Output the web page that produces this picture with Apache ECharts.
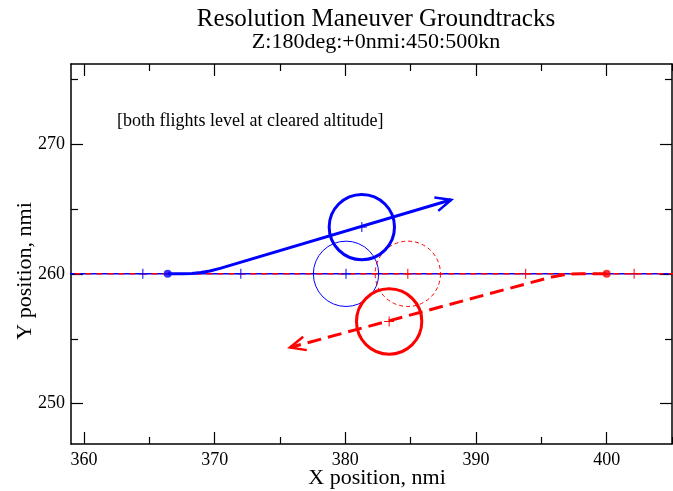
<!DOCTYPE html>
<html>
<head>
<meta charset="utf-8">
<script src="https://cdn.jsdelivr.net/npm/echarts@6/dist/echarts.min.js"></script>
<style>
html,body{margin:0;padding:0;background:#fff;}
#chart{width:673px;height:491px;}
</style>
</head>
<body>
<div id="chart"></div>
<script>
// ---- data ----
const titleText = 'Resolution Maneuver Groundtracks';
const subtitleText = 'Z:180deg:+0nmi:450:500kn';
const noteText = '[both flights level at cleared altitude]';
const xName = 'X position, nmi';
const yName = 'Y position, nmi';

const xMin = 359, xMax = 405;
const yMin = 246.9, yMax = 276.15;
const xMajorTicks = [360, 370, 380, 390, 400];
const xMinorTicks = [365, 375, 385, 395, 405];
const yMajorTicks = [250, 260, 270];
const yMinorTicks = [255, 265, 275];

// original (unresolved) intent lines along y = 260
const refLineX = [350, 410];
const refLineY = [260, 260];

// resolution groundtracks
const blueTrackX = [366.4, 367.55, 368.25, 368.94, 369.63, 370.41, 388.1];
const blueTrackY = [260, 260, 260.024, 260.097, 260.219, 260.417, 265.7];
const redTrackX = [400, 398.01, 397.31, 396.62, 395.93, 395.39, 375.76];
const redTrackY = [260, 260, 259.976, 259.903, 259.781, 259.65, 254.33];

// start points
const blueStart = [366.4, 260];
const redStart = [400, 260];

// separation circles (center x, center y, radius nmi)
const blueCircleThickX = 381.26, blueCircleThickY = 263.6;
const blueCircleThinX = 380.05, blueCircleThinY = 260;
const redCircleThinX = 384.78, redCircleThinY = 260;
const redCircleThickX = 383.35, redCircleThickY = 256.33;
const circleRadius = 2.5;

// time markers (+)
const bluePlusX = [364.5, 372.0, 380.05, 381.26];
const bluePlusY = [260, 260, 260, 263.6];
const redPlusX = [384.78, 393.8, 402.1, 383.35];
const redPlusY = [260, 260, 260, 256.33];

// ---- build ----
const BLUE = '#0000ff', RED = '#ff0000';
const FONT = '"Liberation Serif", "DejaVu Serif", serif';
const zip = (a, b) => a.map((v, i) => [v, b[i]]);

function circleSeries(cx, cy, color, width, dash) {
  return {
    type: 'custom', clip: true, silent: true, z: 5,
    data: [[cx, cy, circleRadius]],
    renderItem: function (params, api) {
      const c = api.coord([api.value(0), api.value(1)]);
      const r = api.size([api.value(2), 0])[0];
      return {
        type: 'circle',
        shape: { cx: c[0], cy: c[1], r: r },
        style: { fill: 'none', stroke: color, lineWidth: width, lineDash: dash || null }
      };
    }
  };
}

function plusSeries(xs, ys, color) {
  return {
    type: 'custom', clip: true, silent: true, z: 6,
    data: zip(xs, ys),
    renderItem: function (params, api) {
      const c = api.coord([api.value(0), api.value(1)]);
      const h = 5;
      return {
        type: 'group',
        children: [
          { type: 'line', shape: { x1: c[0] - h, y1: c[1], x2: c[0] + h, y2: c[1] }, style: { stroke: color, lineWidth: 1 } },
          { type: 'line', shape: { x1: c[0], y1: c[1] - h, x2: c[0], y2: c[1] + h }, style: { stroke: color, lineWidth: 1 } }
        ]
      };
    }
  };
}

function arrowSeries(xs, ys, color) {
  const n = xs.length;
  return {
    type: 'custom', clip: false, silent: true, z: 7,
    data: [[xs[n - 2], ys[n - 2], xs[n - 1], ys[n - 1]]],
    renderItem: function (params, api) {
      const p0 = api.coord([api.value(0), api.value(1)]);
      const p1 = api.coord([api.value(2), api.value(3)]);
      const ang = Math.atan2(p0[1] - p1[1], p0[0] - p1[0]);
      const L = 17, a = 0.42;
      const w1 = [p1[0] + L * Math.cos(ang + a), p1[1] + L * Math.sin(ang + a)];
      const w2 = [p1[0] + L * Math.cos(ang - a), p1[1] + L * Math.sin(ang - a)];
      return {
        type: 'polyline',
        shape: { points: [w1, p1, w2] },
        style: { fill: 'none', stroke: color, lineWidth: 2.5, lineJoin: 'miter' }
      };
    }
  };
}

const baseX = {
  type: 'value', min: xMin, max: xMax, splitLine: { show: false }
};
const baseY = {
  type: 'value', min: yMin, max: yMax, splitLine: { show: false }
};
const lineStyle = { color: '#000', width: 1.5 };
const tickStyle = { color: '#000', width: 1.2 };

const option = {
  animation: false,
  backgroundColor: '#fff',
  grid: { left: 71, right: 1, top: 64, bottom: 47, containLabel: false, outerBoundsMode: 'none' },
  xAxis: [
    Object.assign({}, baseX, {
      position: 'bottom',
      axisLine: { show: true, onZero: false, lineStyle: lineStyle },
      axisTick: { show: true, inside: true, length: 12, customValues: xMajorTicks, lineStyle: tickStyle },
      axisLabel: { show: true, customValues: xMajorTicks, margin: 7, color: '#000', fontFamily: FONT, fontSize: 18 }
    }),
    Object.assign({}, baseX, {
      position: 'bottom',
      axisLine: { show: false, onZero: false },
      axisTick: { show: true, inside: true, length: 7, customValues: xMinorTicks, lineStyle: tickStyle },
      axisLabel: { show: false }
    }),
    Object.assign({}, baseX, {
      position: 'top',
      axisLine: { show: true, onZero: false, lineStyle: lineStyle },
      axisTick: { show: true, inside: true, length: 12, customValues: xMajorTicks, lineStyle: tickStyle },
      axisLabel: { show: false }
    }),
    Object.assign({}, baseX, {
      position: 'top',
      axisLine: { show: false, onZero: false },
      axisTick: { show: true, inside: true, length: 7, customValues: xMinorTicks, lineStyle: tickStyle },
      axisLabel: { show: false }
    })
  ],
  yAxis: [
    Object.assign({}, baseY, {
      position: 'left',
      axisLine: { show: true, onZero: false, lineStyle: lineStyle },
      axisTick: { show: true, inside: true, length: 12, customValues: yMajorTicks, lineStyle: tickStyle },
      axisLabel: { show: true, customValues: yMajorTicks, margin: 6, color: '#000', fontFamily: FONT, fontSize: 18 }
    }),
    Object.assign({}, baseY, {
      position: 'left',
      axisLine: { show: false, onZero: false },
      axisTick: { show: true, inside: true, length: 7, customValues: yMinorTicks, lineStyle: tickStyle },
      axisLabel: { show: false }
    }),
    Object.assign({}, baseY, {
      position: 'right',
      axisLine: { show: true, onZero: false, lineStyle: lineStyle },
      axisTick: { show: true, inside: true, length: 12, customValues: yMajorTicks, lineStyle: tickStyle },
      axisLabel: { show: false }
    }),
    Object.assign({}, baseY, {
      position: 'right',
      axisLine: { show: false, onZero: false },
      axisTick: { show: true, inside: true, length: 7, customValues: yMinorTicks, lineStyle: tickStyle },
      axisLabel: { show: false }
    })
  ],
  graphic: [
    { type: 'text', x: 376, y: 19, style: { text: titleText, x: 0, y: 0, fill: '#000', font: '25px ' + FONT, textAlign: 'center', textVerticalAlign: 'middle' } },
    { type: 'text', x: 376, y: 42, style: { text: subtitleText, x: 0, y: 0, fill: '#000', font: '22px ' + FONT, textAlign: 'center', textVerticalAlign: 'middle' } },
    { type: 'text', x: 117, y: 121, style: { text: noteText, x: 0, y: 0, fill: '#000', font: '18px ' + FONT, textAlign: 'left', textVerticalAlign: 'middle' } },
    { type: 'text', x: 377, y: 478, style: { text: xName, x: 0, y: 0, fill: '#000', font: '22px ' + FONT, textAlign: 'center', textVerticalAlign: 'middle' } },
    { type: 'text', x: 25, y: 271, rotation: Math.PI / 2, style: { text: yName, x: 0, y: 0, fill: '#000', font: '22px ' + FONT, textAlign: 'center', textVerticalAlign: 'middle' } }
  ],
  series: [
    { type: 'line', data: zip(refLineX, refLineY), symbol: 'none', z: 2, silent: true,
      lineStyle: { color: BLUE, width: 1.5 } },
    { type: 'line', data: zip(refLineX, refLineY), symbol: 'none', z: 3, silent: true,
      lineStyle: { color: RED, width: 1.5, type: [6, 5] } },
    circleSeries(blueCircleThinX, blueCircleThinY, BLUE, 1, null),
    circleSeries(redCircleThinX, redCircleThinY, RED, 1, [4, 3]),
    circleSeries(blueCircleThickX, blueCircleThickY, BLUE, 3, null),
    circleSeries(redCircleThickX, redCircleThickY, RED, 3, null),
    { type: 'line', data: zip(blueTrackX, blueTrackY), symbol: 'none', z: 4, silent: true,
      lineStyle: { color: BLUE, width: 3, cap: 'butt', join: 'round' } },
    { type: 'line', data: zip(redTrackX, redTrackY), symbol: 'none', z: 4, silent: true,
      lineStyle: { color: RED, width: 3, type: [14, 7], cap: 'butt', join: 'round' } },
    arrowSeries(blueTrackX, blueTrackY, BLUE),
    arrowSeries(redTrackX, redTrackY, RED),
    plusSeries(bluePlusX, bluePlusY, BLUE),
    plusSeries(redPlusX, redPlusY, RED),
    { type: 'scatter', data: [blueStart], symbol: 'circle', symbolSize: 8, z: 8, silent: true,
      itemStyle: { color: BLUE } },
    { type: 'scatter', data: [redStart], symbol: 'circle', symbolSize: 8, z: 8, silent: true,
      itemStyle: { color: RED } }
  ]
};

const chart = echarts.init(document.getElementById('chart'), null, { renderer: 'canvas' });
chart.setOption(option);
</script>
</body>
</html>
